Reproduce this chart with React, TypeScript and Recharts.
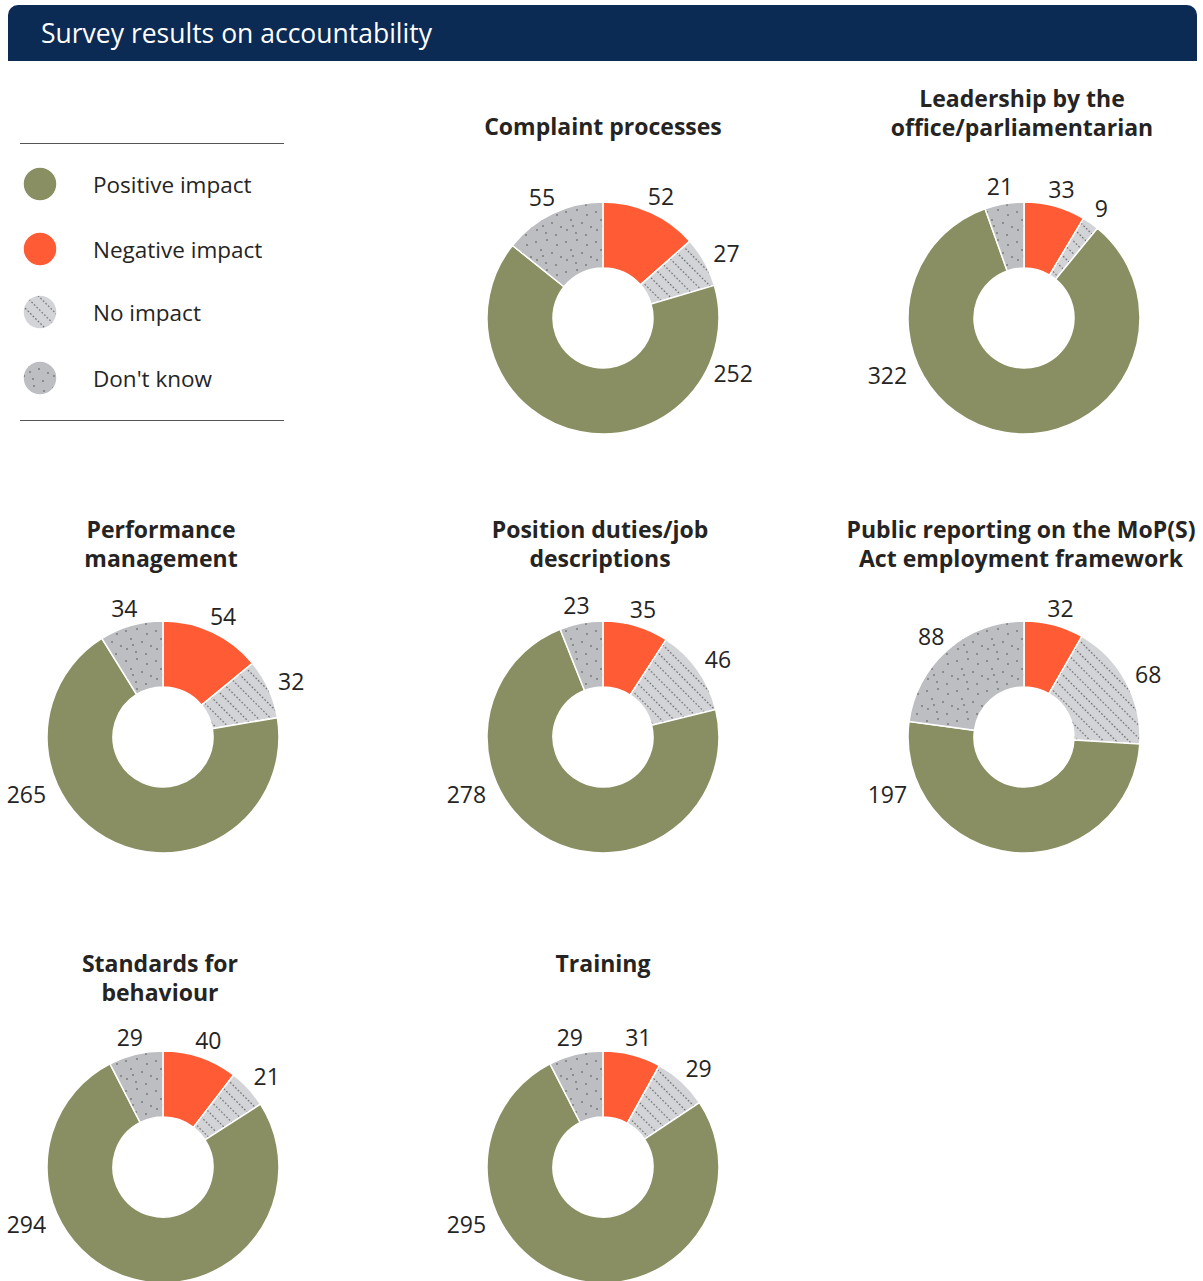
import { PieChart, Pie, Cell } from 'recharts';

// categories in slice order (clockwise from 12 o'clock)
const categories = ['Negative impact', 'No impact', 'Positive impact', "Don't know"];
const legendOrder = ['Positive impact', 'Negative impact', 'No impact', "Don't know"];

const chartTitles = [
    ['Complaint processes'],
    ['Leadership by the', 'office/parliamentarian'],
    ['Performance', 'management'],
    ['Position duties/job', 'descriptions'],
    ['Public reporting on the MoP(S)', 'Act employment framework'],
    ['Standards for', 'behaviour'],
    ['Training'],
];

const negative = [52, 33, 54, 35, 32, 40, 31];
const noImpact = [27, 9, 32, 46, 68, 21, 29];
const positive = [252, 322, 265, 278, 197, 294, 295];
const dontKnow = [55, 21, 34, 23, 88, 29, 29];

// layout of each small donut: centre, first title line, angle/radius of the big label
const layout = [
    { cx: 603, cy: 318, titleY: 127, titleX: 603, bigAngle: 114, bigR: 123 },
    { cx: 1024, cy: 318, titleY: 99, titleX: 1022, bigAngle: 246, bigR: 130 },
    { cx: 163, cy: 737, titleY: 530, titleX: 161, bigAngle: 246, bigR: 130 },
    { cx: 603, cy: 737, titleY: 530, titleX: 600, bigAngle: 246, bigR: 130 },
    { cx: 1024, cy: 737, titleY: 530, titleX: 1021, bigAngle: 246, bigR: 130 },
    { cx: 163, cy: 1167, titleY: 964, titleX: 160, bigAngle: 246, bigR: 130 },
    { cx: 603, cy: 1167, titleY: 964, titleX: 603, bigAngle: 246, bigR: 130 },
];

const FONT = "'Segoe UI', 'Open Sans', sans-serif";
const TEXT = '#252423';
const GREEN = '#898f62';
const RED = '#ff5c35';
const LIGHT = '#d3d4d7';
const MID = '#bdbec2';

const W = 380;
const H = 340;
const R_OUT = 116;
const R_IN = 50;

const dkDots = [
    [3, 4], [14, 2], [24, 7], [8, 12], [19, 15], [28, 19], [4, 22], [13, 25], [23, 27], [10, 18],
];

const Patterns = ({ id }: { id: string }) => (
    <defs>
        <pattern id={`noimp-${id}`} patternUnits="userSpaceOnUse" width={9} height={3.6} patternTransform="rotate(-45)">
            <rect width={9} height={3.6} fill={LIGHT} />
            <circle cx={4.5} cy={1.8} r={0.7} fill="#333" />
        </pattern>
        <pattern id={`dk-${id}`} patternUnits="userSpaceOnUse" width={30} height={30}>
            <rect width={30} height={30} fill={MID} />
            {dkDots.map(([x, y], i) => (
                <circle key={i} cx={x} cy={y} r={0.7} fill="#333" />
            ))}
        </pattern>
    </defs>
);

const fillFor = (cat: string, id: string) => {
    if (cat === 'Positive impact') return GREEN;
    if (cat === 'Negative impact') return RED;
    if (cat === 'No impact') return `url(#noimp-${id})`;
    return `url(#dk-${id})`;
};

const Donut = ({ index }: { index: number }) => {
    const l = layout[index];
    const id = `c${index}`;
    const data = categories.map((name, i) => ({
        name,
        value: [negative, noImpact, positive, dontKnow][i][index],
    }));

    const renderLabel = (props: any) => {
        const { cx, cy, midAngle, value, name } = props;
        const big = name === 'Positive impact';
        // angle clockwise from 12 o'clock
        const theta = big ? l.bigAngle : 90 - midAngle;
        const rad = (theta * Math.PI) / 180;
        const w = String(value).length * 13;
        const hh = 11;
        const r0 = big ? l.bigR : R_OUT + 7;
        const x = cx + Math.sin(rad) * (r0 + w / 2 + (big ? 0 : 5));
        const y = cy - Math.cos(rad) * (r0 + hh);
        return (
            <text
                x={x}
                y={y}
                textAnchor="middle"
                dominantBaseline="central"
                fill={TEXT}
                fontSize={23}
                fontFamily={FONT}
            >
                {value}
            </text>
        );
    };

    return (
        <>
            <div
                style={{
                    position: 'absolute',
                    left: l.titleX - 200,
                    top: l.titleY - 15,
                    width: 400,
                    textAlign: 'center',
                    fontFamily: FONT,
                    fontWeight: 700,
                    fontSize: 23,
                    lineHeight: '29px',
                    color: TEXT,
                }}
            >
                {chartTitles[index].map((t) => (
                    <div key={t}>{t}</div>
                ))}
            </div>
            <div style={{ position: 'absolute', left: l.cx - W / 2, top: l.cy - H / 2 }}>
                <PieChart width={W} height={H} margin={{ top: 0, right: 0, bottom: 0, left: 0 }}>
                    <Patterns id={id} />
                    <Pie
                        data={data}
                        dataKey="value"
                        nameKey="name"
                        cx={W / 2}
                        cy={H / 2}
                        innerRadius={R_IN}
                        outerRadius={R_OUT}
                        startAngle={90}
                        endAngle={-270}
                        stroke="#fff"
                        strokeWidth={1.5}
                        label={renderLabel}
                        labelLine={false}
                        isAnimationActive={false}
                    >
                        {data.map((d) => (
                            <Cell key={d.name} fill={fillFor(d.name, id)} />
                        ))}
                    </Pie>
                </PieChart>
            </div>
        </>
    );
};

const Legend = () => (
    <div style={{ position: 'absolute', left: 20, top: 143, width: 264 }}>
        <div style={{ borderTop: '1.5px solid #555', width: 264 }} />
        <svg width={264} height={276} style={{ display: 'block' }}>
            <Patterns id="legend" />
            {legendOrder.map((cat, i) => {
                const y = [40, 105, 168, 234][i];
                return (
                    <g key={cat}>
                        <circle cx={20} cy={y} r={17} fill={fillFor(cat, 'legend')} stroke="#fff" strokeWidth={1.5} />
                        <text x={73} y={y} dominantBaseline="central" fontSize={22.5} fontFamily={FONT} fill={TEXT}>
                            {cat}
                        </text>
                    </g>
                );
            })}
        </svg>
        <div style={{ borderTop: '1.5px solid #555', width: 264 }} />
    </div>
);

export default function App() {
    return (
        <div style={{ position: 'absolute', left: 0, top: 0, width: 1203, height: 1281, background: '#fff', overflow: 'hidden' }}>
            <div
                style={{
                    position: 'absolute',
                    left: 8,
                    top: 5,
                    width: 1189,
                    height: 56,
                    background: '#0b2a54',
                    borderRadius: '10px 10px 0 0',
                }}
            >
                <div
                    style={{
                        position: 'absolute',
                        left: 33,
                        top: 0,
                        lineHeight: '56px',
                        color: '#fff',
                        fontFamily: FONT,
                        fontSize: 26.5,
                    }}
                >
                    Survey results on accountability
                </div>
            </div>
            <Legend />
            {layout.map((_, i) => (
                <Donut key={i} index={i} />
            ))}
        </div>
    );
}
